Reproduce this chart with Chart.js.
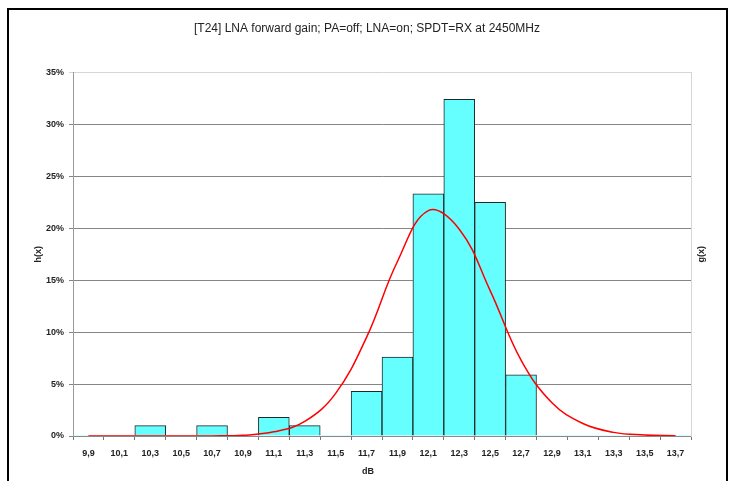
<!DOCTYPE html>
<html>
<head>
<meta charset="utf-8">
<script src="https://cdn.jsdelivr.net/npm/chart.js@4"></script>
<style>
  body { margin: 0; background: #fff; }
  #wrap { position: relative; width: 734px; height: 481px; overflow: hidden; }
  #frame { position: absolute; left: 7px; top: 8px; width: 717px; height: 520px; border: 2px solid #000; }
  #chart { position: absolute; left: 0; top: 0; }
</style>
</head>
<body>
<div id="wrap">
  <div id="frame"></div>
  <canvas id="chart" width="734" height="481"></canvas>
</div>
<script>
// bins (dB), histogram h(x) in %, fitted curve g(x) in %
const bins = ['9,9', '10,1', '10,3', '10,5', '10,7', '10,9', '11,1', '11,3', '11,5', '11,7',
              '11,9', '12,1', '12,3', '12,5', '12,7', '12,9', '13,1', '13,3', '13,5', '13,7'];
const hist = [0, 0, 1.0, 0, 1.0, 0, 1.8, 1.0, 0, 4.3,
              7.6, 23.3, 32.4, 22.5, 5.9, 0, 0, 0, 0, 0];
const curve = [0, 0, 0, 0, 0.01, 0.07, 0.4, 1.4, 4.1, 9.5,
               16.8, 21.7, 19.9, 14.0, 7.3, 3.2, 1.2, 0.35, 0.1, 0.02];
const yTicks = [0, 5, 10, 15, 20, 25, 30, 35];

const titleText = '[T24] LNA forward gain; PA=off; LNA=on; SPDT=RX at 2450MHz';
const family = 'Arial, "Liberation Sans", sans-serif';
const font = { family: family, size: 9, weight: 'bold' };

// axis captions that Excel places off-centre / reading bottom to top
const captions = {
    id: 'captions',
    afterDraw(chart) {
        const ctx = chart.ctx;
        const area = chart.chartArea;
        ctx.save();
        ctx.font = 'bold 9px ' + family;
        ctx.fillStyle = '#222';
        ctx.textAlign = 'center';
        ctx.textBaseline = 'middle';
        ctx.fillText('dB', 368, 472);
        ctx.translate(702, (area.top + area.bottom) / 2);
        ctx.rotate(-Math.PI / 2);
        ctx.fillText('g(x)', 0, 0);
        ctx.restore();
    }
};

new Chart(document.getElementById('chart'), {
    data: {
        labels: bins,
        datasets: [
            {
                type: 'line',
                label: 'g(x)',
                data: curve,
                borderColor: '#ff0000',
                borderWidth: 1.5,
                pointRadius: 0,
                tension: 0.4,
                fill: false,
                order: 0
            },
            {
                type: 'bar',
                label: 'h(x)',
                data: hist,
                backgroundColor: '#66ffff',
                borderColor: '#1e2a2a',
                borderWidth: c => (c.raw ? 1 : 0),
                categoryPercentage: 1,
                barPercentage: 1,
                order: 1
            }
        ]
    },
    options: {
        responsive: false,
        animation: false,
        layout: { padding: 0 },
        plugins: {
            legend: { display: false },
            tooltip: { enabled: false },
            title: {
                display: true,
                text: titleText,
                color: '#222',
                font: { family: family, size: 12, weight: 'normal' },
                padding: { top: 21, bottom: 37 }
            }
        },
        scales: {
            x: {
                grid: { drawOnChartArea: false, offset: true, tickLength: 4, color: '#777' },
                border: { color: '#888' },
                ticks: { color: '#222', font: font, padding: 8, maxRotation: 0, autoSkip: false },
                afterFit(s) { s.height = 45; }
            },
            y: {
                min: 0,
                max: 35,
                afterBuildTicks(s) { s.ticks = yTicks.map(v => ({ value: v })); },
                grid: {
                    tickLength: 4,
                    color: ctx => ctx.tick && ctx.tick.value === 35 ? '#d6d6d6' : '#858585'
                },
                border: { color: '#999' },
                ticks: { color: '#222', font: font, padding: 5, callback: v => v + '%' },
                title: { display: true, text: 'h(x)', color: '#222', font: font, padding: { top: 33 } },
                afterFit(s) { s.width = 73; }
            },
            y1: {
                position: 'right',
                min: 0,
                max: 35,
                grid: { drawOnChartArea: false, drawTicks: false },
                border: { color: '#d6d6d6' },
                ticks: { display: false },
                afterFit(s) { s.width = 43; }
            }
        }
    },
    plugins: [captions]
});
</script>
</body>
</html>
